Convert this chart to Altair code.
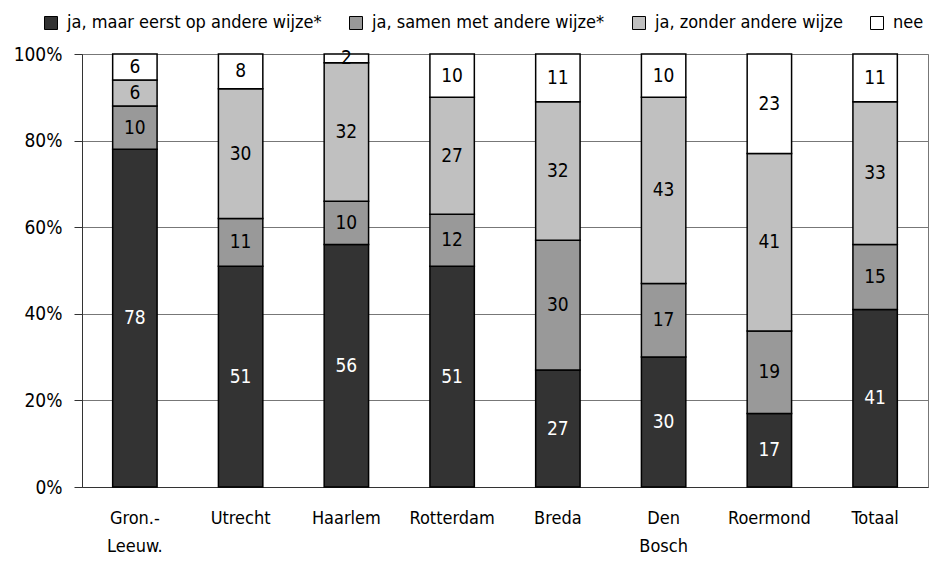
import altair as alt
import pandas as pd

cities = ["Gron.-|Leeuw.", "Utrecht", "Haarlem", "Rotterdam", "Breda", "Den|Bosch", "Roermond", "Totaal"]
series = ["ja, maar eerst op andere wijze*", "ja, samen met andere wijze*", "ja, zonder andere wijze", "nee"]
s1 = [78, 51, 56, 51, 27, 30, 17, 41]
s2 = [10, 11, 10, 12, 30, 17, 19, 15]
s3 = [6, 30, 32, 27, 32, 43, 41, 33]
s4 = [6, 8, 2, 10, 11, 10, 23, 11]
colors = ["#333333", "#999999", "#c0c0c0", "#ffffff"]
text_colors = ["white", "black", "black", "black"]

rows = []
for i, c in enumerate(cities):
    for j, vals in enumerate([s1, s2, s3, s4]):
        rows.append({"city": c, "series": series[j], "order": j, "value": vals[i], "tc": text_colors[j]})
df = pd.DataFrame(rows)

FONT = "DejaVu Sans Condensed"
FS = 19

base = alt.Chart(df).transform_stack(
    stack="value", groupby=["city"], as_=["y0", "y1"], sort=[alt.SortField("order")], offset="normalize"
).transform_calculate(mid="(datum.y0 + datum.y1) / 2")

xenc = alt.X("city:N", sort=cities, title=None,
             scale=alt.Scale(paddingInner=0.58, paddingOuter=0.29),
             axis=alt.Axis(labelExpr="split(datum.label, '|')", labelAngle=0, ticks=False,
                           labelPadding=22, labelFontSize=18, labelLineHeight=28,
                           domainColor="#333", labelColor="black"))

bars = base.mark_bar(stroke="black", strokeWidth=1.5).encode(
    x=xenc,
    y=alt.Y("y0:Q", scale=alt.Scale(domain=[0, 1]), title=None,
            axis=alt.Axis(format="%", values=[0, 0.2, 0.4, 0.6, 0.8, 1.0], tickSize=8,
                          labelPadding=12, labelFontSize=FS, grid=True, gridColor="#777",
                          domainColor="#333", tickColor="#333", labelColor="black")),
    y2="y1:Q",
    color=alt.Color("series:N", sort=series, scale=alt.Scale(domain=series, range=colors),
                    legend=alt.Legend(title=None, orient="none", legendX=-40, legendY=-40,
                                      direction="horizontal", columns=4, symbolType="square",
                                      symbolSize=169, symbolStrokeColor="black", symbolStrokeWidth=1,
                                      labelFontSize=18, labelOffset=7, columnPadding=25,
                                      labelLimit=400, labelColor="black")),
    order=alt.Order("order:Q"),
)

labels = base.mark_text(fontSize=FS, baseline="middle", align="center").encode(
    x=alt.X("city:N", sort=cities),
    y=alt.Y("mid:Q"),
    text=alt.Text("value:Q"),
    color=alt.Color("tc:N", scale=None, legend=None),
)

chart = (bars + labels).properties(
    width=846, height=433,
    autosize=alt.AutoSizeParams(type="none"),
    padding={"left": 74, "top": 46, "right": 5, "bottom": 71},
).configure(font=FONT).configure_view(stroke="#777", strokeWidth=1)

chart.save("out.html", embed_options={"renderer": "svg", "actions": False})
